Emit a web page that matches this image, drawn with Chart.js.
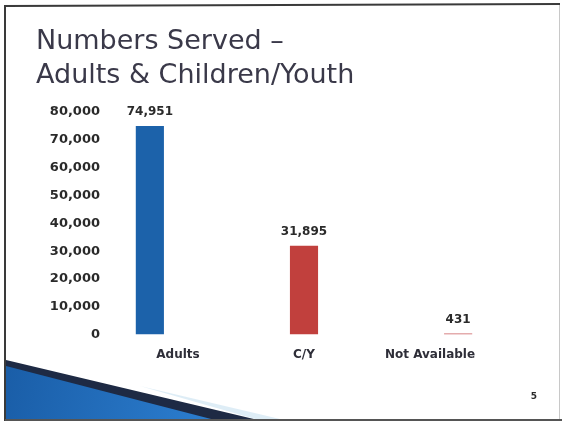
<!DOCTYPE html>
<html>
<head>
<meta charset="utf-8">
<script src="https://cdn.jsdelivr.net/npm/chart.js@4.4.1/dist/chart.umd.min.js"></script>
<style>
  html, body { margin: 0; padding: 0; background: #fff; }
  #wrap { width: 562px; height: 424px; position: relative; }
</style>
</head>
<body>
<div id="wrap"><canvas id="bar-chart"></canvas></div>
<script>
// datos del grafico
const categories = ["Adults", "C/Y", "Not Available"]
const served = [74951, 31895, 431]
const barColors = ["#1c62aa", "#c1403d", "#c95a5c"]
const yTicks = [0, 10000, 20000, 30000, 40000, 50000, 60000, 70000, 80000]
const titleLines = ["Numbers Served \u2013", "Adults & Children/Youth"]
const pageNumber = "5"

const fmt = (v) => v.toLocaleString("en-US")

//* una serie por categoria, asi cada barra queda en su propio hueco del grupo
const datasets = categories.map((cat, i) => ({
  label: cat,
  data: categories.map((_, j) => (j === i ? served[i] : null)),
  backgroundColor: barColors[i],
  barPercentage: 1,
  categoryPercentage: 0.67,
}))

//* marco de la diapositiva y la franja azul de abajo
const slideFrame = {
  id: "slideFrame",
  beforeDraw(chart) {
    const ctx = chart.ctx
    ctx.save()
    ctx.fillStyle = "#fff"
    ctx.fillRect(0, 0, chart.width, chart.height)

    // franja azul
    const grad = ctx.createLinearGradient(6, 380, 200, 420)
    grad.addColorStop(0, "#1a5ea8")
    grad.addColorStop(1, "#2b7ccd")
    ctx.fillStyle = grad
    ctx.beginPath()
    ctx.moveTo(6, 364)
    ctx.lineTo(240, 420)
    ctx.lineTo(6, 420)
    ctx.closePath()
    ctx.fill()

    // brillo claro sobre la franja
    ctx.fillStyle = "rgba(200,225,240,0.6)"
    ctx.beginPath()
    ctx.moveTo(140, 386)
    ctx.lineTo(280, 419)
    ctx.lineTo(255, 419)
    ctx.closePath()
    ctx.fill()

    // borde oscuro
    ctx.fillStyle = "#1e2a44"
    ctx.beginPath()
    ctx.moveTo(6, 360)
    ctx.lineTo(258, 420)
    ctx.lineTo(215, 420)
    ctx.lineTo(6, 366)
    ctx.closePath()
    ctx.fill()

    // marco
    ctx.strokeStyle = "#3a3a3a"
    ctx.lineWidth = 2
    ctx.beginPath()
    ctx.moveTo(5, 421)
    ctx.lineTo(5, 6)
    ctx.lineTo(560, 4)
    ctx.stroke()
    ctx.strokeStyle = "#555"
    ctx.beginPath()
    ctx.moveTo(5, 420)
    ctx.lineTo(562, 420)
    ctx.stroke()
    ctx.strokeStyle = "#c8c8c8"
    ctx.lineWidth = 1
    ctx.beginPath()
    ctx.moveTo(559.5, 5)
    ctx.lineTo(559.5, 419)
    ctx.stroke()

    // numero de pagina
    ctx.fillStyle = "#2a2a2a"
    ctx.font = "bold 9px 'DejaVu Sans'"
    ctx.textAlign = "center"
    ctx.textBaseline = "middle"
    ctx.fillText(pageNumber, 534, 397)
    ctx.restore()
  },
}

//* etiquetas con el valor encima de cada barra
const valueLabels = {
  id: "valueLabels",
  afterDatasetsDraw(chart) {
    const ctx = chart.ctx
    ctx.save()
    ctx.fillStyle = "#2a2a2a"
    ctx.font = "bold 12px 'DejaVu Sans'"
    ctx.textAlign = "center"
    ctx.textBaseline = "bottom"
    chart.data.datasets.forEach((ds, i) => {
      const bar = chart.getDatasetMeta(i).data[i]
      ctx.fillText(fmt(ds.data[i]), bar.x, bar.y - 8)
    })
    ctx.restore()
  },
}

const contenedorBarChart = document.querySelector("#bar-chart").getContext("2d")
const barChart = new Chart(contenedorBarChart, {
  type: "bar",
  data: {
    labels: categories,
    datasets: datasets,
  },
  options: {
    responsive: true,
    maintainAspectRatio: false,
    animation: false,
    layout: {
      padding: { left: 36, right: 69, top: 0, bottom: 49 },
    },
    plugins: {
      legend: { display: false },
      tooltip: { enabled: false },
      title: {
        display: true,
        text: titleLines,
        align: "start",
        color: "#3a3949",
        font: { family: "'DejaVu Sans'", size: 27, weight: "500", lineHeight: 1.26 },
        padding: { top: 25, bottom: 19 },
      },
    },
    scales: {
      x: {
        grid: { display: false, drawTicks: false },
        border: { display: false },
        ticks: {
          color: "#2e2e38",
          padding: 13,
          font: { family: "'DejaVu Sans'", size: 12, weight: "bold" },
        },
      },
      y: {
        min: 0,
        max: yTicks[yTicks.length - 1],
        afterBuildTicks(scale) {
          scale.ticks = yTicks.map((v) => ({ value: v }))
        },
        afterFit(scale) {
          scale.width = 79
        },
        grid: { display: false, drawTicks: false },
        border: { display: false },
        ticks: {
          color: "#2a2a2a",
          padding: 15,
          font: { family: "'DejaVu Sans'", size: 13, weight: "bold" },
          callback: (v) => fmt(v),
        },
      },
    },
  },
  plugins: [slideFrame, valueLabels],
})
</script>
</body>
</html>
